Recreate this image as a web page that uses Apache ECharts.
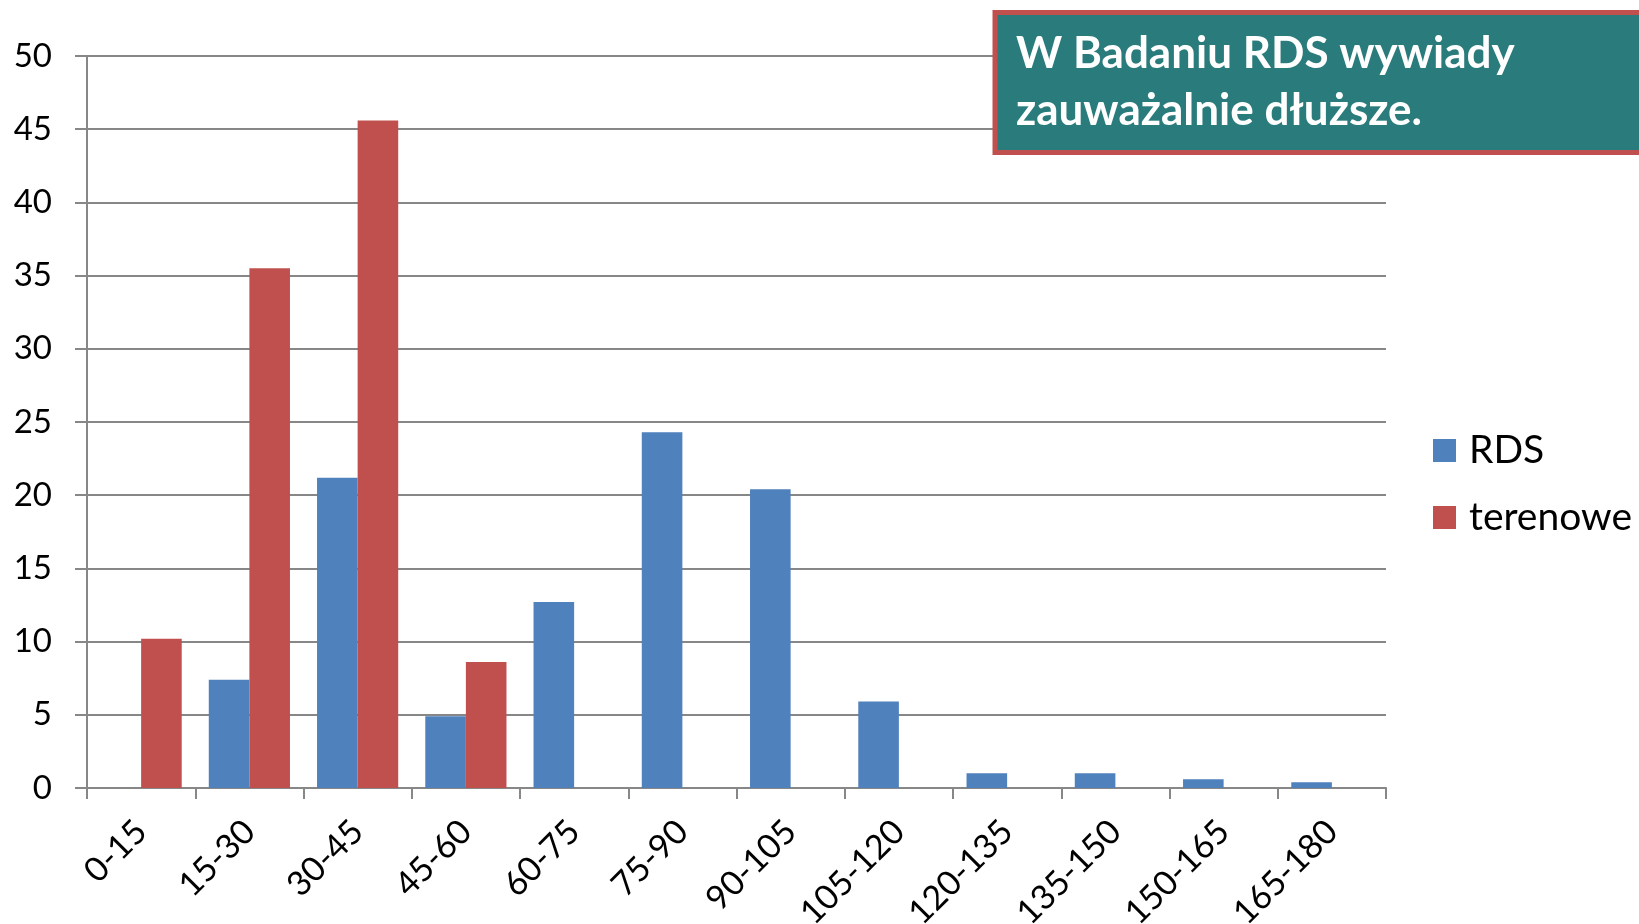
<!DOCTYPE html>
<html>
<head>
<meta charset="utf-8">
<title>Czas trwania wywiadów</title>
<script src="https://cdn.jsdelivr.net/npm/echarts@6/dist/echarts.min.js"></script>
<style>
  html, body { margin: 0; padding: 0; background: #ffffff; }
  #chart { width: 1639px; height: 924px; }
</style>
</head>
<body>
<div id="chart"></div>
<script>
// przedziały czasu trwania wywiadu (minuty)
var categories = ['0-15', '15-30', '30-45', '45-60', '60-75', '75-90', '90-105',
  '105-120', '120-135', '135-150', '150-165', '165-180'];
var rdsValues = [0, 7.4, 21.2, 4.9, 12.7, 24.3, 20.4, 5.9, 1.0, 1.0, 0.6, 0.4];
var terenoweValues = [10.2, 35.5, 45.6, 8.6, 0, 0, 0, 0, 0, 0, 0, 0];
var seriesNames = ['RDS', 'terenowe'];
var titleLines = ['W Badaniu RDS wywiady', 'zauważalnie dłuższe.'];

var fontFamily = 'Lato, "Open Sans", sans-serif';
var gridColor = '#878787';

var chart = echarts.init(document.getElementById('chart'));
var option = {
  backgroundColor: '#ffffff',
  animation: false,
  grid: {
    left: 87,
    right: 253,
    top: 56,
    bottom: 136,
    outerBoundsMode: 'none'
  },
  legend: {
    orient: 'vertical',
    left: 1428,
    top: 426,
    itemWidth: 23,
    itemHeight: 23,
    itemGap: 28,
    icon: 'rect',
    textStyle: {
      fontFamily: fontFamily,
      fontSize: 39,
      color: '#000000',
      padding: [0, 0, 0, 8]
    },
    data: seriesNames
  },
  xAxis: {
    type: 'category',
    data: categories,
    axisLine: { lineStyle: { color: gridColor, width: 2 } },
    axisTick: { show: true, length: 11, lineStyle: { color: gridColor, width: 2 } },
    axisLabel: {
      rotate: 45,
      margin: 38,
      interval: 0,
      fontFamily: fontFamily,
      fontSize: 34,
      color: '#000000'
    }
  },
  yAxis: {
    type: 'value',
    min: 0,
    max: 50,
    interval: 5,
    axisLine: { show: true, lineStyle: { color: gridColor, width: 2 } },
    axisTick: { show: true, length: 12, lineStyle: { color: gridColor, width: 2 } },
    splitLine: { lineStyle: { color: gridColor, width: 2 } },
    axisLabel: {
      margin: 35,
      fontFamily: fontFamily,
      fontSize: 33,
      color: '#000000'
    }
  },
  series: [
    {
      name: seriesNames[0],
      type: 'bar',
      data: rdsValues,
      barGap: 0,
      barCategoryGap: '25%',
      itemStyle: { color: '#4F81BD' }
    },
    {
      name: seriesNames[1],
      type: 'bar',
      data: terenoweValues,
      barGap: 0,
      barCategoryGap: '25%',
      itemStyle: { color: '#C0504D' }
    }
  ],
  graphic: [
    {
      type: 'rect',
      shape: { x: 995, y: 12.5, width: 700, height: 140 },
      style: { fill: '#2A7B7B', stroke: '#C0504D', lineWidth: 5 },
      z: 10
    },
    {
      type: 'text',
      left: 1016,
      top: 25,
      z: 11,
      style: {
        text: titleLines.join('\n'),
        fill: '#ffffff',
        font: 'bold 44px ' + fontFamily,
        lineHeight: 57
      }
    }
  ]
};
chart.setOption(option);
</script>
</body>
</html>
